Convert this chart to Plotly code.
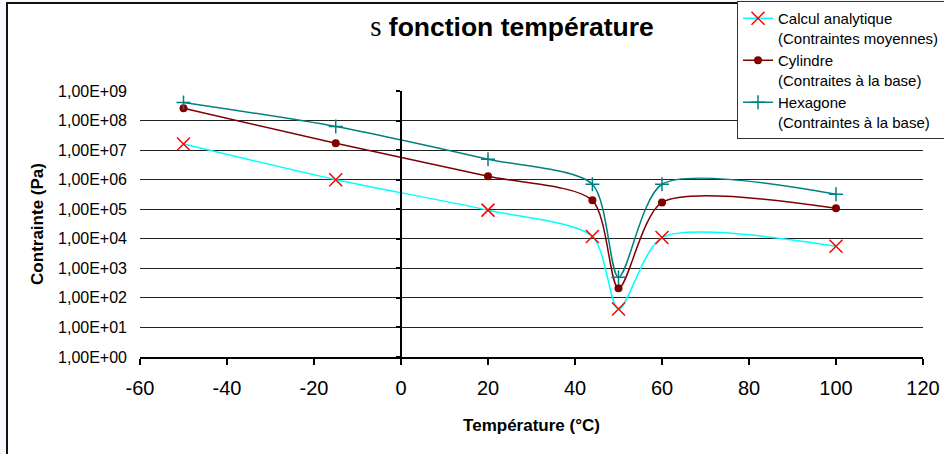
import plotly.graph_objects as go

temps = [-50, -15, 20, 44, 50, 60, 100]
calc_analytique = [1.6e7, 1.0e6, 9.3e4, 1.2e4, 42, 1.1e4, 5.6e3]
cylindre = [2.6e8, 1.7e7, 1.3e6, 2.0e5, 2.1e2, 1.7e5, 1.07e5]
hexagone = [4.1e8, 6.3e7, 4.9e6, 7.0e5, 5.0e2, 7.0e5, 3.2e5]

names = ["Calcul analytique<br>(Contraintes moyennes)",
         "Cylindre<br>(Contraites à la base)",
         "Hexagone<br>(Contraintes à la base)"]

y_tickvals = [10 ** k for k in range(0, 10)]
y_ticktext = ["1,00E+%02d" % k for k in range(0, 10)]
x_tickvals = [-60, -40, -20, 0, 20, 40, 60, 80, 100, 120]

FONT = "Liberation Sans, Arial, sans-serif"
SMOOTH = 0.75

fig = go.Figure()
fig.add_trace(go.Scatter(
    x=temps, y=calc_analytique, name=names[0], mode="lines+markers",
    line=dict(color="#00FFFF", width=1.5, shape="spline", smoothing=SMOOTH),
    marker=dict(symbol="x-thin", size=13, color="#FF0000",
                line=dict(color="#FF0000", width=1.5))))
fig.add_trace(go.Scatter(
    x=temps, y=cylindre, name=names[1], mode="lines+markers",
    line=dict(color="#800000", width=1.5, shape="spline", smoothing=SMOOTH),
    marker=dict(symbol="circle", size=8, color="#800000")))
fig.add_trace(go.Scatter(
    x=temps, y=hexagone, name=names[2], mode="lines+markers",
    line=dict(color="#008080", width=1.5, shape="spline", smoothing=SMOOTH),
    marker=dict(symbol="cross-thin", size=10, color="#008080",
                line=dict(color="#008080", width=1.5))))

# vertical value axis crossing at x = 0 (ticks only)
fig.add_trace(go.Scatter(x=[None], y=[None], yaxis="y2", showlegend=False))

fig.update_layout(
    width=944, height=454,
    margin=dict(l=140, r=21, t=91, b=97, autoexpand=False),
    paper_bgcolor="#f5f8fc",
    plot_bgcolor="rgba(0,0,0,0)",
    font=dict(family=FONT, color="black"),
    title=dict(
        text='<span style="font-family:Liberation Serif;font-weight:normal;font-size:29px">s</span>'
             ' <b>fonction température</b>',
        x=512 / 944, xanchor="center", xref="container",
        y=1 - 27 / 454, yanchor="middle", yref="container",
        font=dict(size=26.5, family=FONT, color="black")),
    xaxis=dict(
        range=[-60, 120], tickvals=x_tickvals, ticktext=[str(v) for v in x_tickvals],
        showgrid=False, zeroline=False, showline=True, linecolor="black", linewidth=1.5,
        ticks="outside", ticklen=6, tickcolor="black", tickwidth=1.5,
        ticklabelstandoff=6,
        tickfont=dict(size=20, family=FONT),
        title=dict(text="<b>Température (°C)</b>", font=dict(size=17, family=FONT), standoff=21)),
    yaxis=dict(
        type="log", range=[0, 9], tickvals=y_tickvals, ticktext=y_ticktext,
        showgrid=True, gridcolor="#222222", gridwidth=1,
        zeroline=False, showline=False, ticks="", ticklabelstandoff=12,
        tickfont=dict(size=16, family=FONT),
        title=dict(text="<b>Contrainte (Pa)</b>", font=dict(size=17, family=FONT), standoff=10)),
    yaxis2=dict(
        type="log", range=[0, 9], overlaying="y", anchor="free", position=1 / 3,
        side="left", tickvals=y_tickvals, showticklabels=False,
        showgrid=False, zeroline=False, showline=True, linecolor="black", linewidth=1.5,
        ticks="outside", ticklen=4, tickcolor="black", tickwidth=1.5),
    legend=dict(
        x=(737 - 140) / 783, xanchor="left", y=(357 - 1) / 266, yanchor="top",
        bgcolor="white", bordercolor="#333333", borderwidth=1,
        font=dict(size=15, family=FONT), valign="top", tracegroupgap=2,
        itemwidth=30),
    shapes=[dict(type="rect", xref="paper", yref="paper",
                 x0=(7 - 140) / 783, x1=1.2, y0=-0.5, y1=(357 - 3) / 266,
                 fillcolor="white", line=dict(color="#111111", width=2), layer="below")],
)

fig.write_html("out.html")
